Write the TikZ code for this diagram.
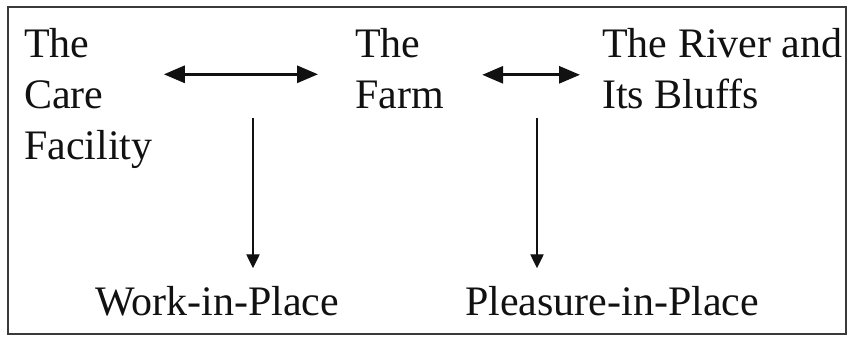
\documentclass[tikz,border=0pt]{standalone}
\usepackage{fontspec}
\setmainfont{Liberation Serif}
\usetikzlibrary{arrows.meta,calc}
\definecolor{Ink}{HTML}{111111}
\definecolor{Frame}{HTML}{3A3A3A}
\tikzset{
  place/.style={inner sep=0pt,align=left,text=Ink,font=\fontsize{31.5}{38.25}\selectfont},
  outcome/.style={inner sep=0pt,text=Ink,font=\fontsize{31.5}{38.25}\selectfont},
  linkboth/.style={{Triangle[length=15.75pt,width=12.75pt]}-{Triangle[length=15.75pt,width=12.75pt]},draw=Ink,line width=2.25pt},
  leadto/.style={-{Triangle[length=10.5pt,width=10pt]},draw=Ink,line width=1pt},
  border/.style={draw=Frame,line width=1.5pt}
}
\begin{document}
\begin{tikzpicture}[x=0.75pt,y=-0.75pt]
  \useasboundingbox (0,0) rectangle (851,337);
  \draw[border] (8,7) rectangle (846,334);
  % the three places along the top
  \node[place,anchor=north west] (care) at (24,28.3) {The\\Care\\Facility};
  \node[place,anchor=north west] (farm) at (355,28.3) {The\\Farm};
  \node[place,anchor=north west] (river) at (602,28.3) {The River and\\Its Bluffs};
  \draw[linkboth] ([shift={(11,46)}]care.north east) -- ([shift={(-37,46)}]farm.north west);
  \draw[linkboth] ([shift={(38,46.5)}]farm.north east) -- ([shift={(-22,46.5)}]river.north west);
  % what comes out of them
  \node[outcome,anchor=base west] (work) at (95,315) {Work-in-Place};
  \node[outcome,anchor=base west] (pleasure) at (465,315) {Pleasure-in-Place};
  \coordinate (fork1) at (253,118);
  \coordinate (fork2) at (537,118);
  \draw[leadto,shorten >=13pt] (fork1) -- (fork1 |- work.north);
  \draw[leadto,shorten >=13pt] (fork2) -- (fork2 |- pleasure.north);
\end{tikzpicture}
\end{document}
